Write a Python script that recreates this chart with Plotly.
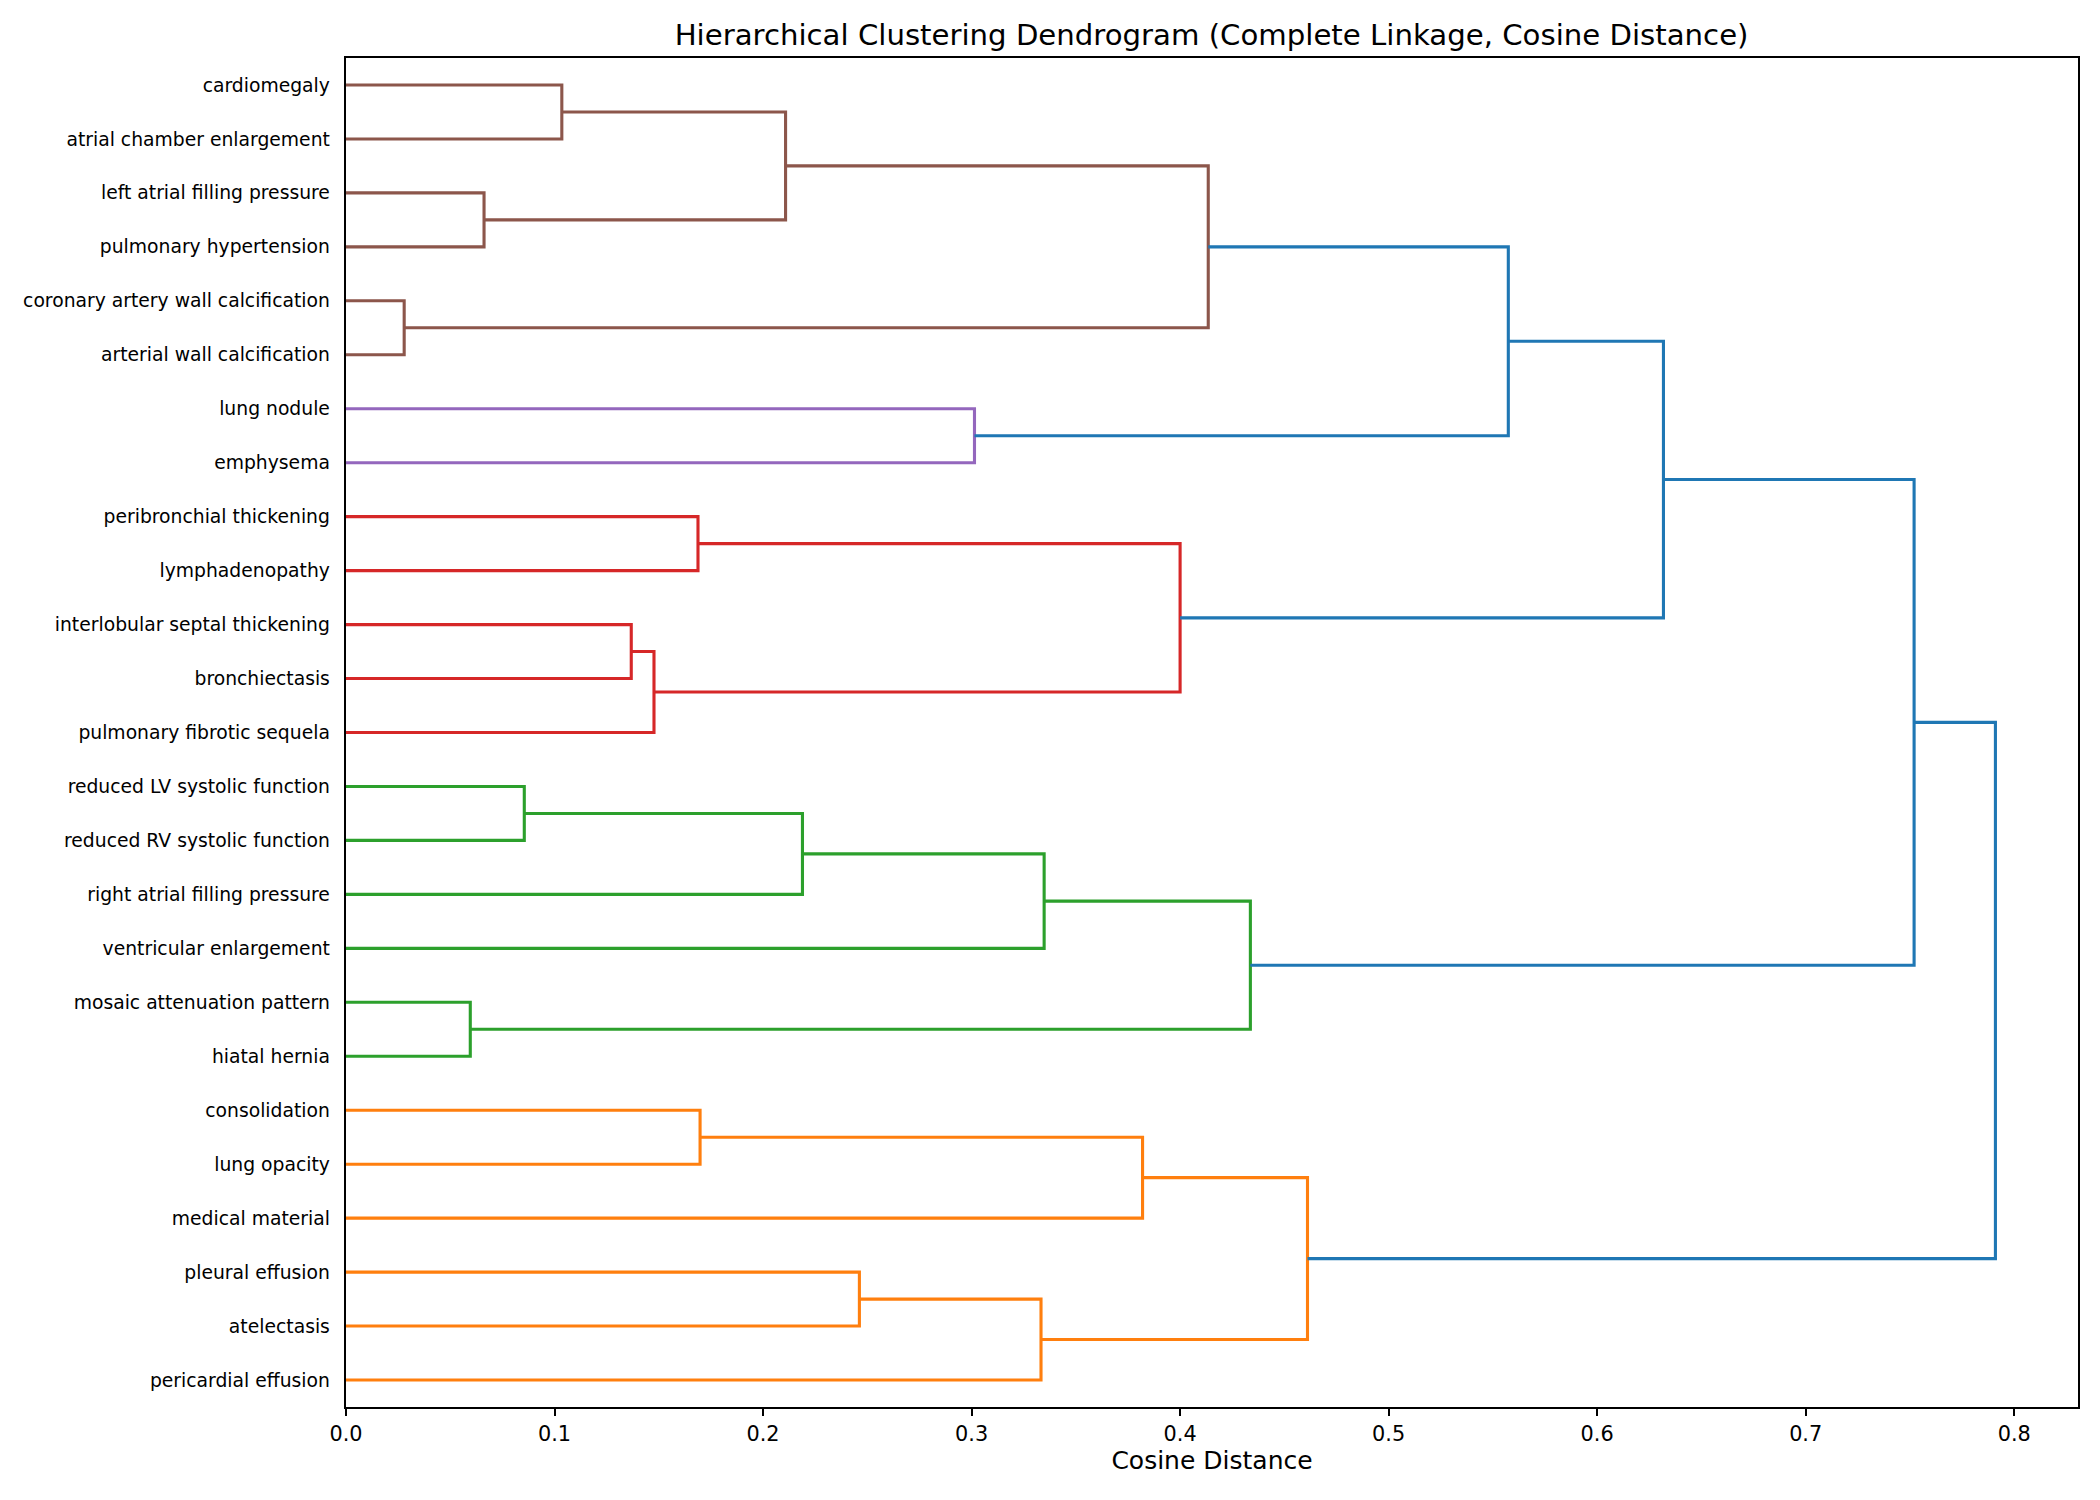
import plotly.graph_objects as go

# Leaves, listed top to bottom as displayed
leaves = [
    "cardiomegaly", "atrial chamber enlargement", "left atrial filling pressure",
    "pulmonary hypertension", "coronary artery wall calcification", "arterial wall calcification",
    "lung nodule", "emphysema", "peribronchial thickening", "lymphadenopathy",
    "interlobular septal thickening", "bronchiectasis", "pulmonary fibrotic sequela",
    "reduced LV systolic function", "reduced RV systolic function", "right atrial filling pressure",
    "ventricular enlargement", "mosaic attenuation pattern", "hiatal hernia",
    "consolidation", "lung opacity", "medical material", "pleural effusion",
    "atelectasis", "pericardial effusion",
]

# Merges: cluster ids 0..24 are leaves, merge k creates cluster 25+k
merge_a = [4, 17, 2, 13, 0, 10, 30, 8, 19, 29, 28, 22, 6, 36, 35, 33, 32, 34, 39, 40, 42, 45, 46, 47]
merge_b = [5, 18, 3, 14, 1, 11, 12, 9, 20, 27, 15, 23, 7, 24, 16, 21, 31, 25, 26, 38, 37, 41, 43, 44]
merge_height = [0.0279, 0.0596, 0.0662, 0.0855, 0.1035, 0.1368, 0.1477, 0.1688, 0.1698, 0.2108,
                0.2189, 0.2462, 0.3014, 0.3333, 0.3348, 0.3820, 0.4000, 0.4135, 0.4337, 0.4611,
                0.5574, 0.6318, 0.7520, 0.7910]
merge_group = ["brown", "green", "brown", "green", "brown", "red", "red", "red", "orange", "brown",
               "green", "orange", "purple", "orange", "green", "orange", "red", "brown", "green", "orange",
               "blue", "blue", "blue", "blue"]

group_colors = {"brown": "#8c564b", "purple": "#9467bd", "red": "#d62728",
                "green": "#2ca02c", "orange": "#ff7f0e", "blue": "#1f77b4"}

n = len(leaves)
pos = {i: 5 + 10 * (n - 1 - i) for i in range(n)}
hgt = {i: 0.0 for i in range(n)}

segs = {g: ([], []) for g in group_colors}
for k, (a, b, h, g) in enumerate(zip(merge_a, merge_b, merge_height, merge_group)):
    xs, ys = segs[g]
    xs += [hgt[a], h, h, hgt[b], None]
    ys += [pos[a], pos[a], pos[b], pos[b], None]
    cid = n + k
    pos[cid] = (pos[a] + pos[b]) / 2
    hgt[cid] = h

fig = go.Figure()
for g in ["brown", "purple", "red", "green", "orange", "blue"]:
    xs, ys = segs[g]
    fig.add_trace(go.Scatter(x=xs, y=ys, mode="lines",
                             line=dict(color=group_colors[g], width=3.1),
                             showlegend=False, hoverinfo="skip"))

font = "DejaVu Sans"
W, H = 2092, 1492
fig.update_layout(
    width=W, height=H,
    margin=dict(l=337.5, r=22.3, t=49.7, b=93.3),
    paper_bgcolor="white", plot_bgcolor="white",
    font=dict(family=font, color="black"),
    title=dict(text="Hierarchical Clustering Dendrogram (Complete Linkage, Cosine Distance)",
               x=1203.6 / W, xanchor="center", y=1 - 27 / H, yanchor="middle", yref="container",
               font=dict(size=29.2, family=font, color="black")),
    xaxis=dict(range=[0, 0.8306], tick0=0, dtick=0.1, tickformat=".1f",
               showgrid=False, zeroline=False, showline=True, mirror=True,
               linecolor="black", linewidth=1.7, ticks="outside", ticklen=7, tickwidth=1.7,
               tickcolor="black", tickfont=dict(size=20.8, family=font, color="black"),
               title=dict(text="Cosine Distance", font=dict(size=25, family=font, color="black"),
                          standoff=7)),
    yaxis=dict(range=[0, 250], tickvals=[pos[i] for i in range(n)], ticktext=leaves,
               showgrid=False, zeroline=False, showline=True, mirror=True,
               linecolor="black", linewidth=1.7, ticks="outside", ticklen=10.5,
               tickcolor="rgba(0,0,0,0)", tickfont=dict(size=18.75, family=font, color="black")),
)

fig.write_html("out.html")
